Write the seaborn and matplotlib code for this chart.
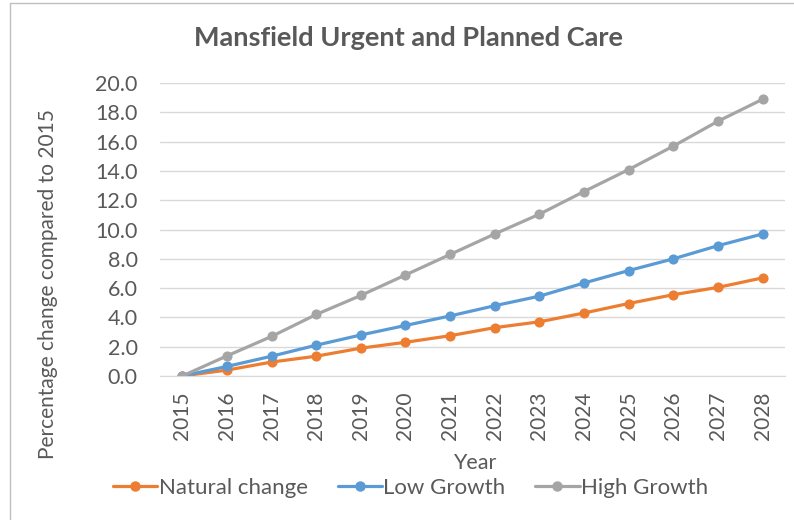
import matplotlib
matplotlib.use("Agg")
import matplotlib.pyplot as plt
import seaborn as sns
import pandas as pd
from matplotlib.lines import Line2D

# Data
years = [2015, 2016, 2017, 2018, 2019, 2020, 2021, 2022, 2023, 2024, 2025, 2026, 2027, 2028]
natural_change = [0.0, 0.4, 0.95, 1.35, 1.9, 2.3, 2.75, 3.3, 3.7, 4.3, 4.95, 5.55, 6.05, 6.7]
low_growth = [0.0, 0.65, 1.35, 2.1, 2.8, 3.45, 4.1, 4.8, 5.45, 6.35, 7.2, 8.0, 8.9, 9.7]
high_growth = [0.0, 1.37, 2.7, 4.2, 5.5, 6.9, 8.3, 9.7, 11.05, 12.6, 14.1, 15.7, 17.4, 18.9]
series_names = ["Natural change", "Low Growth", "High Growth"]
colors = ["#ED7D31", "#5B9BD5", "#A5A5A5"]

df = pd.DataFrame({
    "idx": list(range(len(years))) * 3,
    "value": natural_change + low_growth + high_growth,
    "series": [s for s in series_names for _ in years],
})

sns.set_style("white")
plt.rcParams["font.family"] = ["Lato", "DejaVu Sans"]
text_color = "#595959"

fig = plt.figure(figsize=(7.94, 5.2), dpi=100)
ax = fig.add_axes([0.2015, 0.277, 0.787, 0.563])

sns.lineplot(data=df, x="idx", y="value", hue="series", hue_order=series_names,
             palette=colors, marker="o", markersize=7.3, markeredgewidth=0,
             linewidth=2.3, ax=ax, legend=False)

ax.set_xlim(-0.5, len(years) - 0.5)
ax.set_ylim(0, 20)
ax.set_yticks([i * 2 for i in range(11)])
ax.set_yticklabels([f"{i * 2:.1f}" for i in range(11)], fontsize=15.5, color=text_color)
ax.set_xticks(range(len(years)))
ax.set_xticklabels([str(y) for y in years], rotation=90, fontsize=15, color=text_color)
ax.tick_params(axis="x", length=0, pad=11)
ax.tick_params(axis="y", length=0, pad=16)

ax.grid(axis="y", color="#D9D9D9", linewidth=1)
ax.set_axisbelow(True)
for s in ["top", "right", "left"]:
    ax.spines[s].set_visible(False)
ax.spines["bottom"].set_color("#D9D9D9")

ax.set_xlabel("")
ax.set_ylabel("Percentage change compared to 2015", fontsize=15, color=text_color)
ax.yaxis.set_label_coords(-0.163, 0.313)
fig.text(0.598, 0.11, "Year", fontsize=15.5, color=text_color, ha="center", va="center")

fig.text(0.514, 0.927, "Mansfield Urgent and Planned Care", fontsize=19.5, fontweight="bold",
         color=text_color, ha="center", va="center")

handles = [Line2D([0], [0], color=c, marker="o", markersize=6.5, linewidth=2.3) for c in colors]
fig.legend(handles, series_names, loc="center", bbox_to_anchor=(0.517, 0.062), ncol=3,
           frameon=False, fontsize=16, labelcolor=text_color, handlelength=2.0,
           handletextpad=0.05, columnspacing=1.35)

# chart area border (top and left edges visible)
fig.add_artist(Line2D([10 / 794, 10 / 794], [0, 1 - 3 / 520], color="#BFBFBF", linewidth=1,
                      transform=fig.transFigure))
fig.add_artist(Line2D([10 / 794, 1], [1 - 3 / 520, 1 - 3 / 520], color="#BFBFBF", linewidth=1,
                      transform=fig.transFigure))

fig.savefig("out.png", dpi=100)
